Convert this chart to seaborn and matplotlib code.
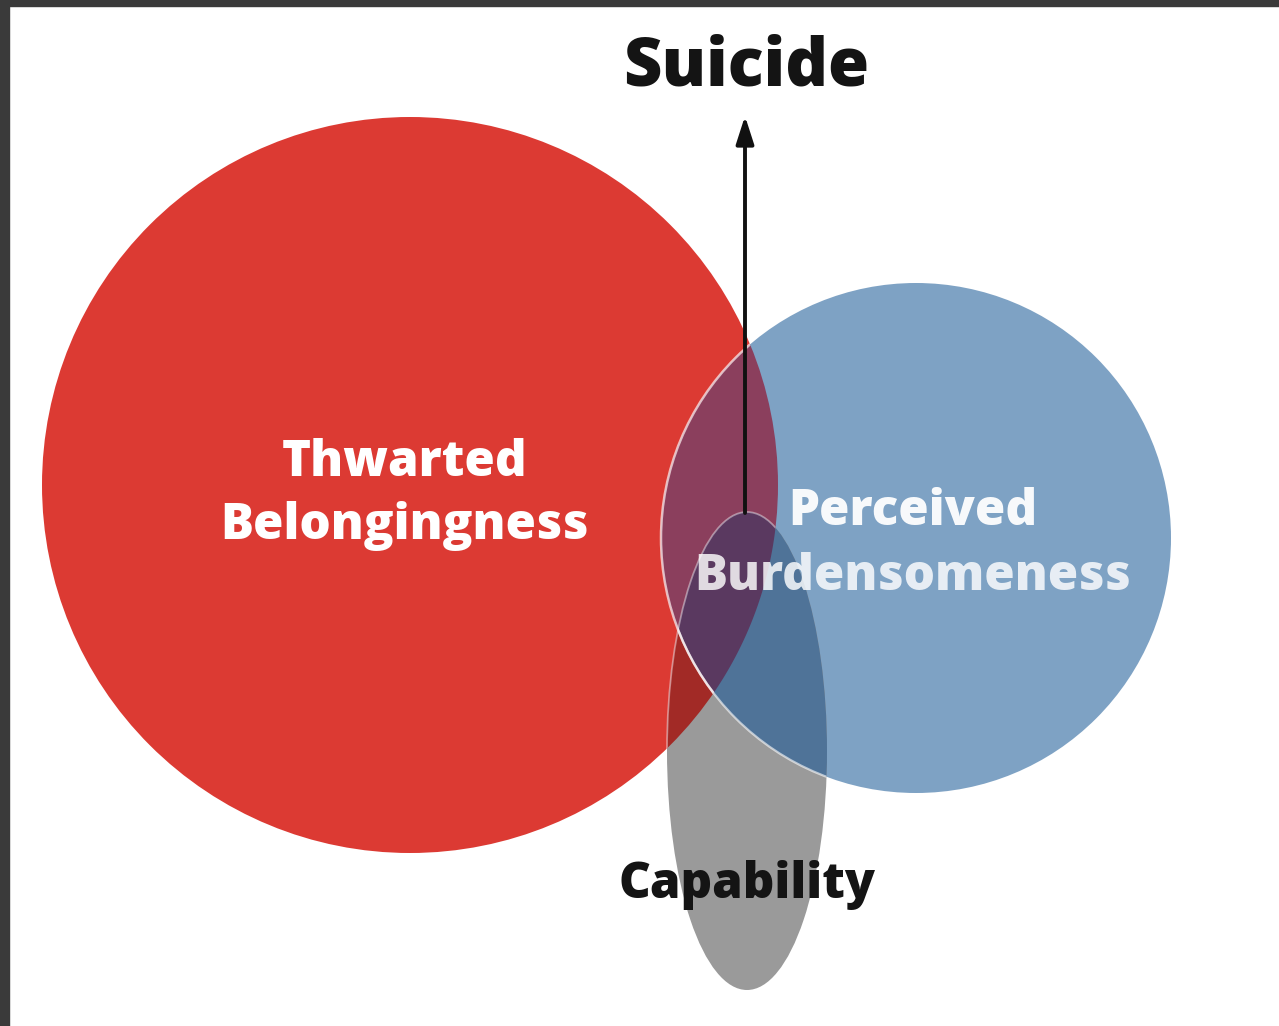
import numpy as np
import matplotlib
matplotlib.use("Agg")
import matplotlib.pyplot as plt
from matplotlib.patches import Circle, Ellipse, Polygon, Rectangle
import seaborn as sns

sns.set_theme(style="white")
plt.rcParams['font.family'] = ['Open Sans', 'DejaVu Sans']

# ---- data (pixel-space layout of the diagram) ----
set_names = ["Thwarted\nBelongingness", "Perceived\nBurdensomeness", "Capability"]
set_colors = ["#dc3a33", "#7ea2c4", "#9a9a9a"]
overlap_colors = {"RB": "#8b3f5d", "RG": "#a22a26", "BG": "#4f7398", "RBG": "#5a3960"}
red_center = (410, 485)
red_radius = 368
blue_center = (916, 538)
blue_radius = 255
gray_center = (747, 751)
gray_width = 160
gray_height = 478
outcome_label = "Suicide"

W, H = 1279, 1026
fig = plt.figure(figsize=(W / 100, H / 100), dpi=100)
ax = fig.add_axes([0, 0, 1, 1])
ax.set_xlim(0, W)
ax.set_ylim(H, 0)
ax.axis("off")

def inside_circle(pts, c, r):
    return (pts[:, 0] - c[0]) ** 2 + (pts[:, 1] - c[1]) ** 2 <= r ** 2 + 1e-6

t = np.linspace(0, 2 * np.pi, 2000, endpoint=False)
red_pts = np.c_[red_center[0] + red_radius * np.cos(t), red_center[1] + red_radius * np.sin(t)]
blue_pts = np.c_[blue_center[0] + blue_radius * np.cos(t), blue_center[1] + blue_radius * np.sin(t)]

# lens polygon (red ∩ blue), convex
lens = np.vstack([red_pts[inside_circle(red_pts, blue_center, blue_radius)],
                  blue_pts[inside_circle(blue_pts, red_center, red_radius)]])
m = lens.mean(axis=0)
lens = lens[np.argsort(np.arctan2(lens[:, 1] - m[1], lens[:, 0] - m[0]))]

# base sets
red = Circle(red_center, red_radius, facecolor=set_colors[0], edgecolor="none", zorder=1)
ax.add_patch(red)
blue = Circle(blue_center, blue_radius, facecolor=set_colors[1], edgecolor="none", zorder=2)
ax.add_patch(blue)
rb = Circle(blue_center, blue_radius, facecolor=overlap_colors["RB"], edgecolor="none", zorder=3)
ax.add_patch(rb)
rb.set_clip_path(red)

gray = Ellipse(gray_center, gray_width, gray_height, facecolor=set_colors[2], edgecolor="none", zorder=4)
ax.add_patch(gray)
rg = Ellipse(gray_center, gray_width, gray_height, facecolor=overlap_colors["RG"], edgecolor="none", zorder=5)
ax.add_patch(rg)
rg.set_clip_path(red)
bg = Ellipse(gray_center, gray_width, gray_height, facecolor=overlap_colors["BG"], edgecolor="none", zorder=6)
ax.add_patch(bg)
bg.set_clip_path(blue)
lens_patch = Polygon(lens, closed=True, facecolor="none", edgecolor="none", zorder=0)
ax.add_patch(lens_patch)
rbg = Ellipse(gray_center, gray_width, gray_height, facecolor=overlap_colors["RBG"], edgecolor="none", zorder=7)
ax.add_patch(rbg)
rbg.set_clip_path(lens_patch)

# thin light outlines (visible only over the coloured areas)
blue_edge = Circle(blue_center, blue_radius, facecolor="none", edgecolor="#fff2f2", lw=1.8, alpha=0.7, zorder=8)
ax.add_patch(blue_edge)
blue_edge.set_clip_path(red)
blue_edge2 = Circle(blue_center, blue_radius, facecolor="none", edgecolor="#ffffff", lw=1.6, alpha=0.6, zorder=8)
ax.add_patch(blue_edge2)
blue_edge2.set_clip_path(gray)
gray_edge = Ellipse(gray_center, gray_width, gray_height, facecolor="none", edgecolor="#fff0f5", lw=1.3, alpha=0.45, zorder=8)
ax.add_patch(gray_edge)
gray_edge.set_clip_path(red)

# arrow to outcome
ax.annotate("", xy=(745, 116), xytext=(745, 513),
            arrowprops=dict(arrowstyle="-|>,head_length=1.4,head_width=0.45", color="#111111", lw=2.8,
                            shrinkA=0, shrinkB=0), zorder=9)

# labels
fw = 800
ax.text(746, 85, outcome_label, ha="center", va="baseline", fontsize=48, fontweight=fw, color="#141414", zorder=10)
l1, l2 = set_names[0].split("\n")
ax.text(405, 476, l1, ha="center", va="baseline", fontsize=35.5, fontweight=fw, color="white", zorder=10)
ax.text(405, 539, l2, ha="center", va="baseline", fontsize=35.5, fontweight=fw, color="white", zorder=10)
p1, p2 = set_names[1].split("\n")
ax.text(913, 525, p1, ha="center", va="baseline", fontsize=35.5, fontweight=fw, color="white", alpha=0.95, zorder=10)
ax.text(913, 590, p2, ha="center", va="baseline", fontsize=35.5, fontweight=fw, color="white", alpha=0.82, zorder=10)
ax.text(747, 898, set_names[2], ha="center", va="baseline", fontsize=35.5, fontweight=fw, color="#141414", zorder=10)

# dark frame at top and left
fig.patches.append(Rectangle((0, 1 - 6 / H), 1, 6 / H, transform=fig.transFigure, color="#3a3a3a", zorder=20))
fig.patches.append(Rectangle((0, 0), 9 / W, 1, transform=fig.transFigure, color="#3a3a3a", zorder=20))

fig.savefig("out.png", dpi=100, facecolor="white")
